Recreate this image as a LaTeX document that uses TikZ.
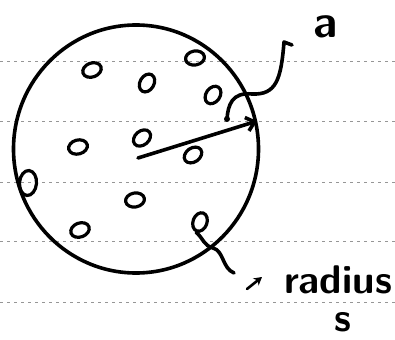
\documentclass[tikz,border=0pt]{standalone}
\usetikzlibrary{arrows.meta,shapes.geometric}
\definecolor{rulegray}{RGB}{150,150,150}
\tikzset{
  ink/.style={line width=3.6pt, line cap=round, line join=round},
  pore/.style={draw, ellipse, line width=3.2pt, inner sep=0pt,
    minimum width=19pt, minimum height=14pt},
  scrawl/.style={font=\sffamily\bfseries\fontsize{40}{42}\selectfont, inner sep=0pt}
}

\begin{document}
\begin{tikzpicture}[x=1pt,y=-1pt]
    \useasboundingbox (0,0) rectangle (395,339);

    % ruled paper
    \foreach \y in {61,121,182,241,302} {
        \draw[rulegray, line width=0.7pt, dash pattern=on 3pt off 4pt] (0,\y) -- (395,\y);
    }

    % the drop
    \node[ellipse, draw, ink, minimum width=245pt, minimum height=248pt] (drop) at (136,149) {};

    % pores inside
    \node[pore, rotate=20]  (p1)  at (92,70)   {};
    \node[pore, rotate=60]  (p2)  at (147,83)  {};
    \node[pore, rotate=10]  (p3)  at (195,58)  {};
    \node[pore, rotate=55]  (p4)  at (213,95)  {};
    \node[pore, rotate=15]  (p5)  at (78,147)  {};
    \node[pore, rotate=40]  (p6)  at (142,138) {};
    \node[pore, rotate=35]  (p7)  at (193,155) {};
    \node[pore, rotate=85, minimum width=25pt, minimum height=17pt] (p8) at (28,183) {};
    \node[pore, rotate=10]  (p9)  at (135,200) {};
    \node[pore, rotate=20]  (p10) at (80,230)  {};
    \node[pore, rotate=70]  (p11) at (200,222) {};

    % radius arrow
    \coordinate (centre) at (138,158);
    \draw[ink, -{Straight Barb[length=8pt, width=14pt, line width=3.6pt]}] (centre) -- (drop.13);

    % label a
    \node[scrawl, font=\sffamily\bfseries\fontsize{46}{48}\selectfont] (a) at (326,27) {a};
    \coordinate (hook) at (284,42);
    \coordinate (pin) at (227,119);
    \draw[ink] (292,45) -- (hook) .. controls (281,80) and (276,95) .. (252,94)
        .. controls (232,92) and (228,105) .. (pin);
    \fill (pin) circle (3pt);

    % label radius
    \node[scrawl] (radius) at (338,280) {radius};
    \node[scrawl] (s) at (343,322) {s};
    \coordinate (tail) at (234,273);
    \draw[ink] (p11.west) .. controls (203,238) and (204,246) .. (213,248)
        .. controls (224,251) and (222,268) .. (tail);
    \coordinate (mark) at (247,289);
    \draw[line width=2.6pt, line cap=round, -{Stealth[length=8pt,width=9pt]}] (mark) -- ++(15,-12);
\end{tikzpicture}
\end{document}
